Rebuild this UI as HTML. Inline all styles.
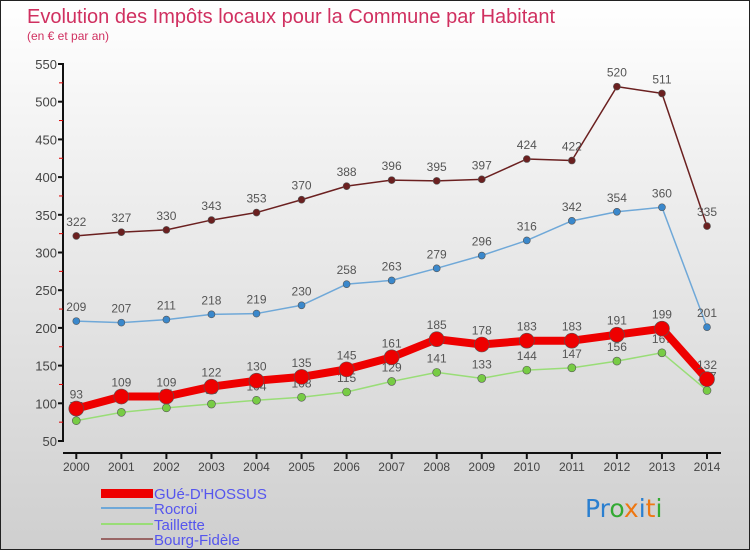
<!DOCTYPE html>
<html><head><meta charset="utf-8"><style>
html,body{margin:0;padding:0}
body{width:750px;height:550px;overflow:hidden;font-family:"Liberation Sans",sans-serif}
#wrap{position:relative;width:748px;height:548px;border:1px solid #222;background:linear-gradient(#fff 0%,#f0f0f0 30%,#cfcfcf 100%)}
</style></head><body>
<div id="wrap">
<svg id="chart" width="748" height="548" xmlns="http://www.w3.org/2000/svg">
<text x="26" y="22" font-size="20" fill="#d03060">Evolution des Impôts locaux pour la Commune par Habitant</text>
<text x="26" y="39" font-size="12" fill="#d03060">(en € et par an)</text>
<g id="axes"></g><g id="series"></g>
<g font-size="15" fill="#5555ee">
<rect x="100" y="488" width="52" height="9" fill="#ee0000"/>
<text x="153" y="498">GUé-D'HOSSUS</text>
<rect x="100" y="506" width="52" height="2" fill="#6fa8d8"/>
<text x="153" y="513">Rocroi</text>
<rect x="100" y="522" width="52" height="2" fill="#99dd77"/>
<text x="153" y="529">Taillette</text>
<rect x="100" y="537" width="52" height="2" fill="#996666"/>
<text x="153" y="544">Bourg-Fidèle</text>
</g>
<g font-size="25" font-family="'DejaVu Sans',sans-serif">
<text x="584" y="516"><tspan fill="#2a7fd0">Pr</tspan><tspan fill="#33aa33">o</tspan><tspan fill="#ee7711">x</tspan><tspan fill="#2a7fd0">i</tspan><tspan fill="#ee7711">t</tspan><tspan fill="#33aa33">i</tspan></text>
</g>
</svg></div>
<script>
const years=[2000,2001,2002,2003,2004,2005,2006,2007,2008,2009,2010,2011,2012,2013,2014];
const yTicks=[50,100,150,200,250,300,350,400,450,500,550];
const gueValues=[93,109,109,122,130,135,145,161,185,178,183,183,191,199,132];
const rocroiValues=[209,207,211,218,219,230,258,263,279,296,316,342,354,360,201];
const tailletteValues=[77,88,94,99,104,108,115,129,141,133,144,147,156,167,117];
const bourgValues=[322,327,330,343,353,370,388,396,395,397,424,422,520,511,335];
const NS="http://www.w3.org/2000/svg";
function xs(i){return 75.3+i*(706-75.3)/(years.length-1);}
function ys(v){return 440-(v-50)*0.754;}
function mk(t,a,p){const e=document.createElementNS(NS,t);for(const k in a)e.setAttribute(k,a[k]);p.appendChild(e);return e;}
const ax=document.getElementById('axes');
const yAxis=mk('line',{x1:62,y1:ys(550),x2:62,y2:ys(50),stroke:'#111','stroke-width':2},ax);


const xAxis=mk('line',{x1:62,y1:452,x2:720,y2:452,stroke:'#111','stroke-width':2},ax);


yTicks.forEach((v,i)=>{
  mk('line',{x1:57,y1:ys(v),x2:63,y2:ys(v),stroke:'#111','stroke-width':2},ax);
  if(i<yTicks.length-1)mk('line',{x1:58,y1:ys(v+25),x2:62,y2:ys(v+25),stroke:'#d00','stroke-width':1},ax);
  const t=mk('text',{x:56,y:ys(v)+5,'text-anchor':'end','font-size':13,fill:'#444'},ax);
  t.textContent=v;
  
  
});
years.forEach((y,i)=>{
  mk('line',{x1:xs(i),y1:452,x2:xs(i),y2:458,stroke:'#111','stroke-width':2},ax);
  const t=mk('text',{x:xs(i),y:470,'text-anchor':'middle','font-size':12,fill:'#444'},ax);
  t.textContent=y;
  
  
});
const sg=document.getElementById('series');
function drawSeries(vals,name,color,width,r,dotFill){
  const g=mk('g',{},sg);
  
  
  const pl=mk('polyline',{points:vals.map((v,i)=>xs(i)+','+ys(v)).join(' '),fill:'none',stroke:color,'stroke-width':width,'stroke-linejoin':'round'},g);
  
  
  vals.forEach((v,i)=>{
    const c=mk('circle',{cx:xs(i),cy:ys(v),r:r,fill:dotFill,stroke:'#555','stroke-width':0.6},g);
    
    
    const t=mk('text',{x:xs(i),y:ys(v)-10,'text-anchor':'middle','font-size':12,fill:'#555'},g);
    t.textContent=v;
    
    
  });
}
drawSeries(bourgValues,'bourg-fidele','#6b2020',1.5,3.5,'#6b2020');
drawSeries(rocroiValues,'rocroi','#6fa8d8',1.5,3.5,'#3a88cc');
drawSeries(tailletteValues,'taillette','#99dd77',1.5,4,'#77cc44');
drawSeries(gueValues,'gue-dhossus','#ee0000',8,7.5,'#ee0000');
</script>
</body></html>
